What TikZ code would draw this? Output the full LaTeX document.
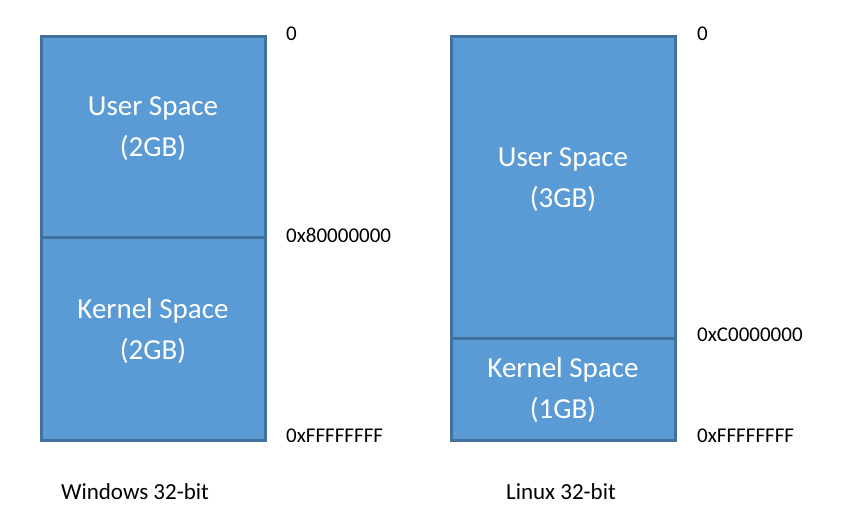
\documentclass[tikz,border=0pt]{standalone}
\usepackage{fontspec}
\setmainfont{Carlito}
\usepackage{tikz}

\definecolor{regionfill}{HTML}{5B9BD5}
\definecolor{regionline}{HTML}{41719C}

\tikzset{
  region/.style={shape=rectangle, draw=regionline, fill=regionfill, line width=3pt, inner sep=0pt, minimum width=224pt},
  regiontext/.style={text=white, align=center, font=\fontsize{29}{41}\selectfont},
  addr/.style={anchor=west, inner sep=0pt, font=\fontsize{21}{25}\selectfont},
  caption/.style={inner sep=0pt, font=\fontsize{23}{27}\selectfont}
}

\begin{document}
\begin{tikzpicture}[x=1pt, y=-1pt]
	
	\useasboundingbox (0,0) rectangle (841,521);
	
	\node[region, minimum height=201pt] (winuser) at (153, 137.5) {};
	\node[region, minimum height=202pt] (winkernel) at (153, 339) {};
	\node[region, minimum height=302pt] (linuser) at (563, 188) {};
	\node[region, minimum height=101pt] (linkernel) at (563, 389.5) {};
	
	\node[regiontext] (winusertext) at (153, 129) {User Space\\(2GB)};
	\node[regiontext] (winkerneltext) at (153, 331) {Kernel Space\\(2GB)};
	\node[regiontext] (linusertext) at (563, 180) {User Space\\(3GB)};
	\node[regiontext] (linkerneltext) at (563, 390) {Kernel Space\\(1GB)};
	
	\node[addr] (winzero) at (286, 34) {0};
	\node[addr] (winsplit) at (286, 235) {0x80000000};
	\node[addr] (winend) at (286, 436) {0xFFFFFFFF};
	\node[addr] (linzero) at (697, 34) {0};
	\node[addr] (linsplit) at (697, 335) {0xC0000000};
	\node[addr] (linend) at (697, 436) {0xFFFFFFFF};
	
	\node[caption] (wincaption) at (135, 492) {Windows 32-bit};
	\node[caption] (lincaption) at (561, 492) {Linux 32-bit};
	
\end{tikzpicture}
\end{document}
